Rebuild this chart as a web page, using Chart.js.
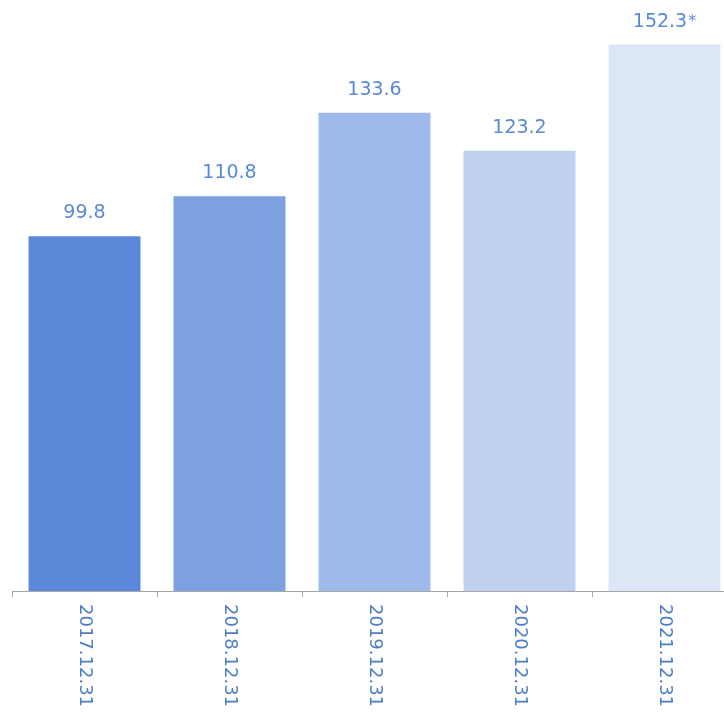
<!DOCTYPE html>
<html>
<head>
<meta charset="utf-8">
<script src="https://cdn.jsdelivr.net/npm/chart.js@4/dist/chart.umd.min.js"></script>
<style>
  html, body { margin: 0; padding: 0; background: #ffffff; overflow: hidden; }
  #wrap { position: relative; width: 724px; height: 715px; overflow: hidden; }
  #wrap canvas { position: absolute; left: 0; top: 0; }
</style>
</head>
<body>
<div id="wrap"><canvas id="chart" width="740" height="715"></canvas></div>
<script>
// Year-end figures
const categories = ['2017.12.31', '2018.12.31', '2019.12.31', '2020.12.31', '2021.12.31'];
const values = [99.8, 110.8, 133.6, 123.2, 152.3];
const valueNotes = ['', '', '', '', '*'];

// Palette: one shade per year, from dark to light
const barColors = ['#5b88d9', '#7ca0e0', '#9fb9ea', '#bfd0f0', '#dde6f7'];
const labelColor = '#5a89d6';
const tickColor = '#4b7ec2';
const axisColor = '#a6a6a6';
const fontFamily = '"DejaVu Sans", sans-serif';

// Value labels above each bar, with an optional note mark
const valueLabels = {
  id: 'valueLabels',
  afterDatasetsDraw(chart) {
    const ctx = chart.ctx;
    const meta = chart.getDatasetMeta(0);
    ctx.save();
    ctx.fillStyle = labelColor;
    ctx.textBaseline = 'alphabetic';
    meta.data.forEach((bar, i) => {
      const main = values[i].toFixed(1);
      const note = valueNotes[i];
      ctx.font = '19px ' + fontFamily;
      const wMain = ctx.measureText(main).width;
      ctx.font = '16px ' + fontFamily;
      const wNote = note ? ctx.measureText(note).width + 1 : 0;
      const start = bar.x - (wMain + wNote) / 2;
      const base = bar.y - 18;
      ctx.textAlign = 'left';
      ctx.font = '19px ' + fontFamily;
      ctx.fillText(main, start, base);
      if (note) {
        ctx.font = '16px ' + fontFamily;
        ctx.fillText(note, start + wMain + 1, base - 1);
      }
    });
    ctx.restore();
  }
};

// Category labels turned a quarter clockwise, read top to bottom
const rotatedTicks = {
  id: 'rotatedTicks',
  afterDraw(chart) {
    const ctx = chart.ctx;
    const scale = chart.scales.x;
    ctx.save();
    ctx.fillStyle = tickColor;
    ctx.font = '18px ' + fontFamily;
    ctx.textAlign = 'left';
    ctx.textBaseline = 'middle';
    categories.forEach((label, i) => {
      const x = scale.getPixelForTick(i);
      ctx.save();
      ctx.translate(x, chart.chartArea.bottom + 13);
      ctx.rotate(Math.PI / 2);
      ctx.fillText(label, 0, 0);
      ctx.restore();
    });
    ctx.restore();
  }
};

new Chart(document.getElementById('chart'), {
  type: 'bar',
  data: {
    labels: categories,
    datasets: [{
      data: values,
      backgroundColor: barColors,
      borderWidth: 0,
      categoryPercentage: 1,
      barPercentage: 0.772
    }]
  },
  options: {
    responsive: false,
    animation: false,
    layout: { padding: { left: 12, right: 3, top: 0, bottom: 0 } },
    plugins: { legend: { display: false }, tooltip: { enabled: false } },
    scales: {
      x: {
        offset: true,
        grid: {
          offset: true,
          display: true,
          drawOnChartArea: false,
          drawTicks: true,
          tickLength: 6,
          color: axisColor,
          lineWidth: 1
        },
        border: { display: true, color: axisColor, width: 1 },
        ticks: { display: false },
        afterFit(scale) { scale.height = 124; }
      },
      y: {
        display: false,
        min: 2.7,
        max: 164.5
      }
    }
  },
  plugins: [valueLabels, rotatedTicks]
});
</script>
</body>
</html>
